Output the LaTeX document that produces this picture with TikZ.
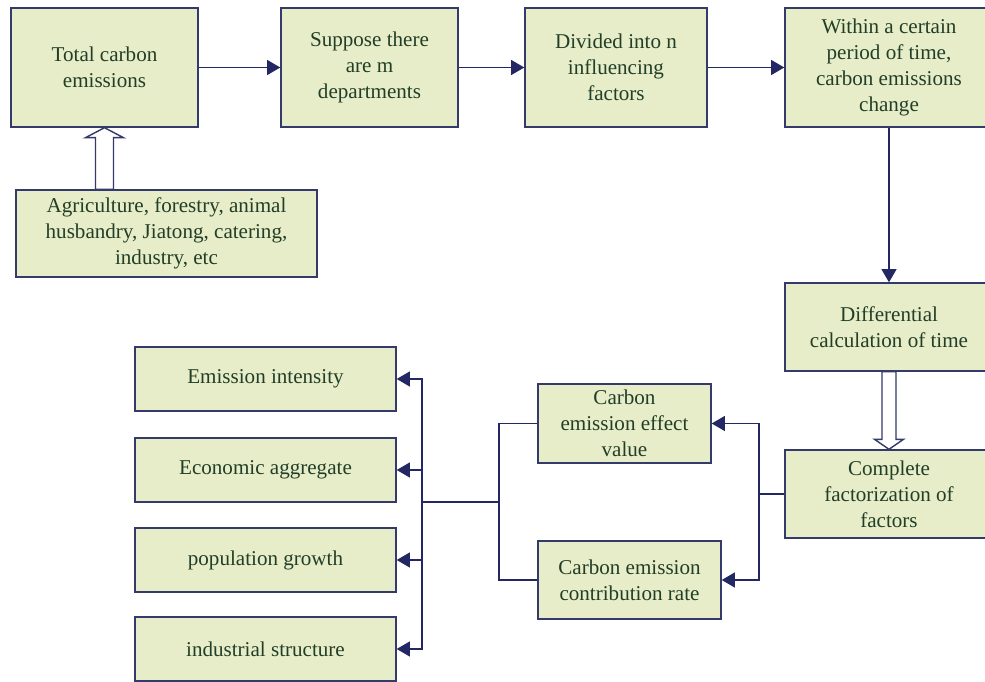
\documentclass[tikz,border=0pt]{standalone}
\usepackage{fontspec}
\setmainfont{Liberation Serif}
\usepackage{tikz}
\usetikzlibrary{positioning, arrows.meta, calc}
\definecolor{CEFill}{RGB}{230,237,200}
\definecolor{CELine}{RGB}{52,58,105}
\definecolor{CENavy}{RGB}{35,40,100}
\definecolor{CEText}{RGB}{35,62,40}

\begin{document}
\begin{tikzpicture}[x=0.02cm, y=-0.02cm,
          box/.style={rectangle, draw=CELine, line width=0.8pt, fill=CEFill,
                      text=CEText, align=center, inner sep=2pt,
                      font=\fontsize{12}{14.8}\selectfont},
          arr/.style={-{Triangle[length=7.5pt, width=8.5pt]}, line width=0.85pt, CENavy},
          link/.style={line width=0.85pt, CENavy},
          hollow/.style={draw=CELine, line width=0.8pt, fill=white}
        ]
        \useasboundingbox (0,0) rectangle (985,682);
        \clip (0,0) rectangle (985,682);

        % Top row
        \node[box, minimum width=3.74cm, minimum height=2.38cm] (tce) at (104.5, 67.5)
              {Total carbon\\emissions};
        \node[box, minimum width=3.54cm, minimum height=2.38cm] (sup) at (369.5, 67.5)
              {Suppose there\\are m\\departments};
        \node[box, minimum width=3.64cm, minimum height=2.38cm] (div) at (616, 67.5)
              {Divided into n\\influencing\\factors};
        \node[box, minimum width=4.16cm, minimum height=2.38cm] (wit) at (889, 67.5)
              {Within a certain\\period of time,\\carbon emissions\\change};

        \draw[arr] (tce)--(sup);
        \draw[arr] (sup)--(div);
        \draw[arr] (div)--(wit);

        % Sectors
        \node[box, minimum width=6.02cm, minimum height=1.74cm] (agr) at (166.5, 233.5)
              {Agriculture, forestry, animal\\husbandry, Jiatong, catering,\\industry, etc};
        \coordinate (hu) at (tce.south |- agr.north);
        \draw[hollow] (tce.south) -- ++(19,10) -- ++(-10,0)
              -- ($(hu)+(9,0)$) -- ($(hu)+(-9,0)$)
              -- ($(tce.south)+(-9,10)$) -- ++(-10,0) -- cycle;

        % Right column
        \node[box, minimum width=4.16cm, minimum height=1.76cm] (dif) at (889, 327)
              {Differential\\calculation of time};
        \node[box, minimum width=4.16cm, minimum height=1.76cm] (com) at (889, 494)
              {Complete\\factorization of\\factors};
        \draw[arr] (wit)--(dif);
        \coordinate (hd) at (com.north |- dif.south);
        \draw[hollow] (com.north) -- ++(14.5,-10) -- ++(-7.5,0)
              -- ($(hd)+(7,0)$) -- ($(hd)+(-7,0)$)
              -- ($(com.north)+(-7,-10)$) -- ++(-7.5,0) -- cycle;

        % Effect value and contribution rate
        \node[box, minimum width=3.46cm, minimum height=1.58cm] (eff) at (624.5, 423.5)
              {Carbon\\emission effect\\value};
        \node[box, minimum width=3.66cm, minimum height=1.56cm] (con) at (629.5, 580)
              {Carbon emission\\contribution rate};
        \coordinate (sp) at (759, 494);
        \draw[link] (com.west)--(sp);
        \draw[arr] (sp) |- (eff);
        \draw[arr] (sp) |- (con);

        % Factors
        \foreach \n/\t/\y in {ei/Emission intensity/379, ea/Economic aggregate/470,
                              pg/population growth/560, is/industrial structure/649} {
          \node[box, minimum width=5.22cm, minimum height=1.28cm] (\n) at (265.5, \y) {\t};
        }
        \coordinate (jn) at (499, 502);
        \coordinate (br) at (422, 502);
        \draw[link] (eff.west) -| (jn) |- (con.west);
        \draw[link] (jn)--(br);
        \foreach \n in {ei, ea, pg, is} {
          \draw[arr] (br) |- (\n);
        }
      \end{tikzpicture}
\end{document}
